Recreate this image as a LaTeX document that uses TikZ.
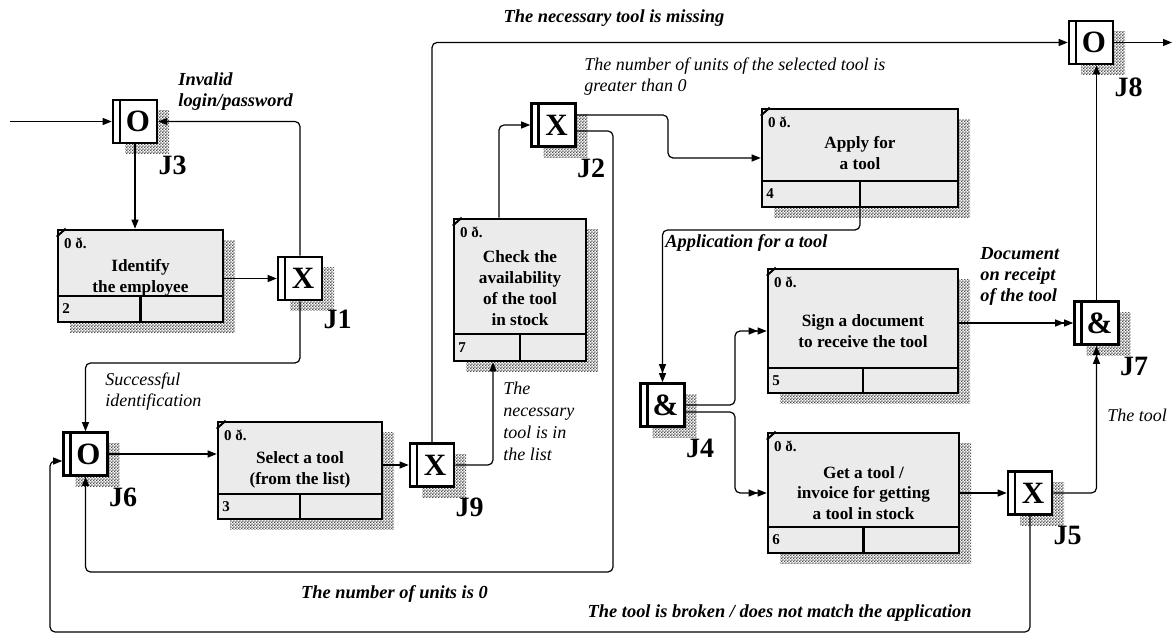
\documentclass[tikz,border=0pt]{standalone}
\usepackage{fontspec}
\setmainfont{Liberation Serif}
\usepackage{tikz}
\usetikzlibrary{arrows.meta,positioning,fit,shadows,patterns}

\pgfdeclarepatternformonly{chk}{\pgfqpoint{0pt}{0pt}}{\pgfqpoint{1.4pt}{1.4pt}}{\pgfqpoint{1.4pt}{1.4pt}}{%
  \pgfpathrectangle{\pgfqpoint{0pt}{0pt}}{\pgfqpoint{0.7pt}{0.7pt}}%
  \pgfpathrectangle{\pgfqpoint{0.7pt}{0.7pt}}{\pgfqpoint{0.7pt}{0.7pt}}%
  \pgfusepath{fill}}

\tikzset{
  hatch/.style={general shadow={shadow xshift=6pt, shadow yshift=-5.5pt, draw=none, pattern=chk, pattern color=black!70}},
  actbox/.style={draw, line width=1.3pt, fill=gray!16, inner sep=0pt, hatch},
  boxline/.style={line width=1.3pt},
  tick/.style={line width=1pt},
  junc/.style={draw, line width=1.3pt, fill=white, minimum width=22pt, minimum height=21.5pt, inner sep=0pt,
    font=\fontsize{15.5}{17}\selectfont\bfseries, hatch, execute at begin node=\hspace*{3pt},
    path picture={\draw[line width=1.3pt] ([xshift=3.5pt]path picture bounding box.north west) -- ([xshift=3.5pt]path picture bounding box.south west);}},
  jlab/.style={font=\fontsize{14}{16}\selectfont\bfseries, inner sep=0pt},
  boxtext/.style={font=\fontsize{8.6}{10.4}\selectfont\bfseries, align=center, inner sep=0pt},
  corner/.style={font=\fontsize{7.5}{8}\selectfont\bfseries, inner sep=0pt, anchor=north west},
  num/.style={font=\fontsize{7.5}{9}\selectfont\bfseries, inner sep=0pt, anchor=west},
  note/.style={font=\fontsize{9}{10.5}\selectfont\itshape, align=left, inner sep=0pt},
  bnote/.style={note, font=\fontsize{9.2}{10.5}\selectfont\bfseries\itshape},
  flow/.style={line width=0.6pt, rounded corners=2.5pt, -{Triangle[length=4.5pt,width=3.5pt]}},
  flow2/.style={flow, -{Triangle[length=4.5pt,width=3.5pt] Triangle[length=4.5pt,width=3.5pt]}}
}

\begin{document}
\begin{tikzpicture}[x=0.5pt, y=-0.5pt]
  \useasboundingbox (0,0) rectangle (1173,635);

  \node (b2) [actbox, fit={(58,230) (223,322)}] {};
  \draw [boxline] (58,296) -- (223,296) (b2.south) -- (140.5,296);
  \draw [tick] ([yshift=-4pt]b2.north west) -- ([xshift=4.5pt]b2.north west);
  \node (c2) [corner] at ([xshift=3.5pt,yshift=-4.5pt]b2.north west) {0 ð.};
  \node (n2) [num] at (62,309) {2};
  \node (t2) [boxtext] at (140.5,278) {Identify\\the employee};

  \node (b3) [actbox, fit={(218,422) (382,519)}] {};
  \draw [boxline] (218,494) -- (382,494) (b3.south) -- (300,494);
  \draw [tick] ([yshift=-4pt]b3.north west) -- ([xshift=4.5pt]b3.north west);
  \node (c3) [corner] at ([xshift=3.5pt,yshift=-4.5pt]b3.north west) {0 ð.};
  \node (n3) [num] at (222,506.5) {3};
  \node (t3) [boxtext] at (300,470) {Select a tool\\(from the list)};

  \node (b7) [actbox, fit={(454,219) (586,361)}] {};
  \draw [boxline] (454,334) -- (586,334) (b7.south) -- (520,334);
  \draw [tick] ([yshift=-4pt]b7.north west) -- ([xshift=4.5pt]b7.north west);
  \node (c7) [corner] at ([xshift=3.5pt,yshift=-4.5pt]b7.north west) {0 ð.};
  \node (n7) [num] at (458,347.5) {7};
  \node (t7) [boxtext] at (520,288) {Check the\\availability\\of the tool\\in stock};

  \node (b4) [actbox, fit={(762,109) (958,207)}] {};
  \draw [boxline] (762,181) -- (958,181) (b4.south) -- (860,181);
  \draw [tick] ([yshift=-4pt]b4.north west) -- ([xshift=4.5pt]b4.north west);
  \node (c4) [corner] at ([xshift=3.5pt,yshift=-4.5pt]b4.north west) {0 ð.};
  \node (n4) [num] at (766,194) {4};
  \node (t4) [boxtext] at (860,153) {Apply for\\a tool};

  \node (b5) [actbox, fit={(768,269) (958,393)}] {};
  \draw [boxline] (768,368) -- (958,368) (b5.south) -- (863,368);
  \draw [tick] ([yshift=-4pt]b5.north west) -- ([xshift=4.5pt]b5.north west);
  \node (c5) [corner] at ([xshift=3.5pt,yshift=-4.5pt]b5.north west) {0 ð.};
  \node (n5) [num] at (772,380.5) {5};
  \node (t5) [boxtext] at (863,331) {Sign a document\\to receive the tool};

  \node (b6) [actbox, fit={(768,433) (959,553)}] {};
  \draw [boxline] (768,527) -- (959,527) (b6.south) -- (863.5,527);
  \draw [tick] ([yshift=-4pt]b6.north west) -- ([xshift=4.5pt]b6.north west);
  \node (c6) [corner] at ([xshift=3.5pt,yshift=-4.5pt]b6.north west) {0 ð.};
  \node (n6) [num] at (772,540) {6};
  \node (t6) [boxtext] at (863.5,493) {Get a tool /\\invoice for getting\\a tool in stock};

  \node (j3) [junc] at (135,121.5) {O};
  \node (j1) [junc] at (300,278.5) {X};
  \node (j6) [junc] at (85.5,454) {O};
  \node (j9) [junc] at (432,465) {X};
  \node (j2) [junc] at (553.5,125) {X};
  \node (j4) [junc] at (662.5,405) {\&};
  \node (j5) [junc] at (1030,493) {X};
  \node (j7) [junc] at (1096.5,323) {\&};
  \node (j8) [junc] at (1091,42.5) {O};

  \node (l3) [jlab, below right=5.5pt and 0pt of j3.south east] {J3};
  \node (l1) [jlab, below right=4pt and 0pt of j1.south east] {J1};
  \node (l6) [jlab, below right=5.5pt and 0pt of j6.south east] {J6};
  \node (l9) [jlab, below right=5pt and 0pt of j9.south east] {J9};
  \node (l2) [jlab, below right=5.5pt and 0pt of j2.south east] {J2};
  \node (l4) [jlab, below right=5.5pt and 0pt of j4.south east] {J4};
  \node (l5) [jlab, below right=5pt and 0pt of j5.south east] {J5};
  \node (l7) [jlab, below right=5.5pt and 0pt of j7.south east] {J7};
  \node (l8) [jlab, below right=6pt and 0pt of j8.south east] {J8};

  \coordinate (src) at (10,121.5);
  \coordinate (snk) at (1172,42.5);

  \draw [flow] (src) -- (j3.west);
  \draw [flow] (j1.north) |- (j3.east);
  \draw [flow] (j3.south) -- (j3.south |- b2.north);
  \draw [flow] (b2.east |- j1) -- (j1.west);
  \draw [flow] (j1.south) |- (85.5,363) -- (j6.north);
  \draw [flow] (j6.east) -- (j6.east -| b3.west);
  \draw [flow] (b3.east |- j9) -- (j9.west);
  \draw [flow] (j9.north) |- (j8.west);
  \draw [flow] (j9.east) -| ([xshift=-13.5pt]b7.south);
  \draw [flow] ([xshift=-10.5pt]b7.north) |- (j2.west);
  \draw [flow] ([yshift=5pt]j2.east) -| (668,158) -- (b4.west);
  \draw [flow] ([yshift=-3pt]j2.east) -| (613,572) -| (j6.south);
  \draw [flow2] (b4.south) |- (662.5,230) -- (j4.north);
  \draw [flow2] (j4.east) -| (735,331) -- (b5.west);
  \draw [flow2] ([yshift=-3.5pt]j4.east) -| (735,493) -- (b6.west);
  \draw [flow] (b6.east) -- (j5.west);
  \draw [flow2] (j5.east) -| (j7.south);
  \draw [flow] (j5.south) |- (50,632) |- ([yshift=-3.5pt]j6.west);
  \draw [flow2] (b5.east |- j7) -- (j7.west);
  \draw [flow] (j7.north) -- (j7.north |- j8.south);
  \draw [flow] (j8.east) -- (snk);

  \node (lInv) [bnote, anchor=west] at (178,92) {Invalid\\login/password};
  \node (lSucc) [note, anchor=west] at (105,392) {Successful\\identification};
  \node (lMiss) [bnote] at (614,18) {The necessary tool is missing};
  \node (lGt) [note, anchor=west] at (584,77) {The number of units of the selected tool is\\greater than 0};
  \node (lList) [note, anchor=west, font=\fontsize{9}{11}\selectfont\itshape] at (503,421) {The\\necessary\\tool is in\\the list};
  \node (lApp) [bnote, anchor=west] at (665,243) {Application for a tool};
  \node (lDoc) [bnote, anchor=west] at (980,276) {Document\\on receipt\\of the tool};
  \node (lTool) [note, anchor=west] at (1107,415) {The tool};
  \node (lZero) [bnote] at (394.5,594) {The number of units is 0};
  \node (lBrk) [bnote, anchor=east] at (972,613) {The tool is broken / does not match the application};
\end{tikzpicture}
\end{document}
